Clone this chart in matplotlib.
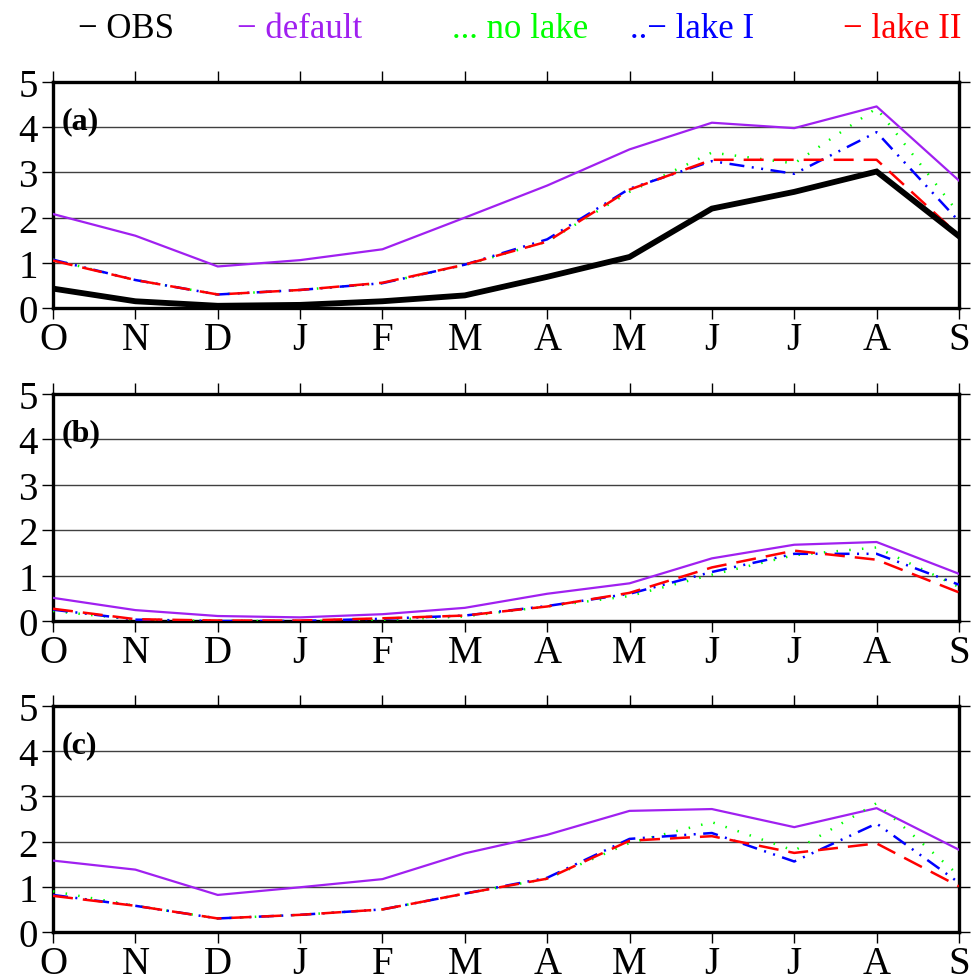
import matplotlib
matplotlib.use('Agg')
import matplotlib.pyplot as plt

plt.rcParams['font.family'] = ['Liberation Serif', 'DejaVu Serif']

months = ['O', 'N', 'D', 'J', 'F', 'M', 'A', 'M', 'J', 'J', 'A', 'S']
panel_labels = ['(a)', '(b)', '(c)']

# panel (a)
obs_a = [0.43, 0.15, 0.05, 0.07, 0.15, 0.28, 0.69, 1.13, 2.2, 2.57, 3.02, 1.59]
default_a = [2.08, 1.6, 0.92, 1.06, 1.3, 2.0, 2.71, 3.51, 4.1, 3.98, 4.46, 2.82]
nolake_a = [1.07, 0.62, 0.3, 0.4, 0.55, 0.95, 1.47, 2.57, 3.44, 3.2, 4.42, 2.09]
lake1_a = [1.07, 0.62, 0.3, 0.4, 0.55, 0.96, 1.52, 2.64, 3.25, 2.97, 3.89, 1.92]
lake2_a = [1.05, 0.62, 0.3, 0.4, 0.56, 0.96, 1.47, 2.62, 3.28, 3.28, 3.28, 1.61]

# panel (b)
default_b = [0.51, 0.24, 0.11, 0.08, 0.15, 0.29, 0.6, 0.83, 1.38, 1.68, 1.74, 1.04]
nolake_b = [0.22, 0.03, 0.0, 0.0, 0.02, 0.1, 0.32, 0.55, 1.02, 1.45, 1.62, 0.75]
lake1_b = [0.25, 0.03, 0.0, 0.0, 0.05, 0.12, 0.33, 0.6, 1.08, 1.48, 1.48, 0.8]
lake2_b = [0.27, 0.04, 0.01, 0.01, 0.06, 0.12, 0.32, 0.62, 1.18, 1.55, 1.35, 0.63]

# panel (c)
default_c = [1.58, 1.38, 0.82, 0.99, 1.17, 1.74, 2.15, 2.68, 2.72, 2.32, 2.74, 1.82]
nolake_c = [0.9, 0.58, 0.3, 0.38, 0.5, 0.85, 1.18, 1.97, 2.43, 1.8, 2.85, 1.25]
lake1_c = [0.82, 0.58, 0.3, 0.38, 0.5, 0.85, 1.2, 2.06, 2.19, 1.56, 2.4, 1.09]
lake2_c = [0.8, 0.58, 0.3, 0.38, 0.5, 0.85, 1.18, 2.02, 2.12, 1.75, 1.96, 1.01]

PURPLE = '#a020f0'
GREEN = '#00ff00'
BLUE = '#0000ff'
RED = '#ff0000'

fig = plt.figure(figsize=(9.71, 9.78), dpi=100)

boxes = [(0.0546, 0.684, 0.933, 0.2311),
         (0.0546, 0.364, 0.933, 0.2321),
         (0.0546, 0.046, 0.933, 0.2311)]

panels = [
    (obs_a, default_a, nolake_a, lake1_a, lake2_a),
    (None, default_b, nolake_b, lake1_b, lake2_b),
    (None, default_c, nolake_c, lake1_c, lake2_c),
]

x = list(range(len(months)))

for box, data, lab in zip(boxes, panels, panel_labels):
    ax = fig.add_axes(box)
    obs, dft, nol, l1, l2 = data
    for yv in range(1, 5):
        ax.axhline(yv, color='0.25', lw=1.0, zorder=1)
    ax.plot(x, dft, color=PURPLE, lw=1.6, zorder=3)
    ax.plot(x, nol, color=GREEN, lw=1.8, linestyle=(0, (0.6, 4.5)), zorder=3)
    ax.plot(x, l1, color=BLUE, lw=1.8, linestyle=(0, (6, 3, 0.8, 3, 0.8, 3)), zorder=4)
    ax.plot(x, l2, color=RED, lw=1.8, linestyle=(0, (8, 4)), zorder=5)
    if obs is not None:
        ax.plot(x, obs, color='black', lw=4.2, solid_joinstyle='miter', zorder=6)
    ax.set_xlim(0, 11)
    ax.set_ylim(0, 5)
    ax.set_xticks(x)
    ax.set_xticklabels(months)
    ax.set_yticks(range(6))
    ax.tick_params(axis='both', direction='out', length=8, width=1.0,
                   labelsize=28, top=True, right=True)
    ax.tick_params(axis='x', pad=1)
    ax.tick_params(axis='y', pad=3)
    for sp in ax.spines.values():
        sp.set_linewidth(2.4)
    ax.text(0.01, 0.83, lab, transform=ax.transAxes, fontsize=23,
            fontweight='bold', va='center', ha='left')

legend_items = [('− OBS', 'black', 0.080),
                ('− default', PURPLE, 0.244),
                ('... no lake', GREEN, 0.465),
                ('..− lake I', BLUE, 0.649),
                ('− lake II', RED, 0.868)]
for txt, col, xp in legend_items:
    fig.text(xp, 0.970, txt, color=col, fontsize=25, ha='left', va='center')

fig.savefig('out.png', dpi=100)
